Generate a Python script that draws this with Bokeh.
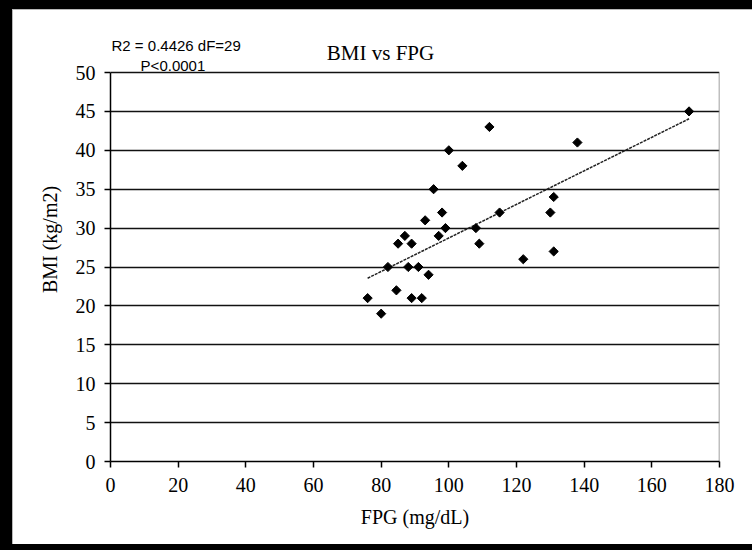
import numpy as np
from bokeh.plotting import figure
from bokeh.models import Range1d, Label, FixedTicker
from bokeh.embed import file_html
from bokeh.resources import INLINE

# Data
fpg = [112, 138, 100, 104, 95.5, 131, 93, 98, 115, 130, 87, 85, 89, 97, 99,
       108, 109, 122, 131, 82, 88, 91, 94, 84.5, 76, 89, 92, 80, 171]
bmi = [43, 41, 40, 38, 35, 34, 31, 32, 32, 32, 29, 28, 28, 29, 30,
       30, 28, 26, 27, 25, 25, 25, 24, 22, 21, 21, 21, 19, 45]
trend_x = [76, 171]
trend_y = [23.56, 44.05]
x_ticks = [0, 20, 40, 60, 80, 100, 120, 140, 160, 180]
y_ticks = [0, 5, 10, 15, 20, 25, 30, 35, 40, 45, 50]
title_text = "BMI vs FPG"
stat_line1 = "R2 = 0.4426 dF=29"
stat_line2 = "P<0.0001"

SERIF = "Liberation Serif"
SANS = "Liberation Sans"

# frame extends above y=50 so that the title texts sit inside it
Y_TOP = 57.07
p = figure(width=752, height=550, output_backend="svg", toolbar_location=None,
           x_range=Range1d(0, 180), y_range=Range1d(0, Y_TOP),
           min_border_left=110, min_border_right=33, min_border_top=17,
           min_border_bottom=89)
p.styles = {"background-color": "white", "overflow": "hidden",
            "box-shadow": "inset 12px 9px 0 0 black, inset 0 -6px 0 0 black, "
                          "inset 13px 10px 0 0 #b8b8b8, inset -8px 0 0 0 white"}
p.background_fill_color = "white"
p.border_fill_color = None
p.outline_line_color = None

# grid
p.xgrid.grid_line_color = None
p.ygrid.grid_line_color = "#111111"
p.ygrid.grid_line_width = 1.5
p.ygrid.ticker = FixedTicker(ticks=y_ticks)

for ax, ticks in ((p.xaxis[0], x_ticks), (p.yaxis[0], y_ticks)):
    ax.ticker = FixedTicker(ticks=ticks)
    ax.minor_tick_line_color = None
    ax.major_tick_in = 0
    ax.major_tick_out = 6
    ax.axis_line_color = "black"
    ax.axis_line_width = 1.5
    ax.major_tick_line_color = "black"
    ax.major_tick_line_width = 1.5
    ax.major_label_text_font = SERIF
    ax.major_label_text_font_size = "20px"
    ax.major_label_text_color = "black"
    ax.axis_label_text_font = SERIF
    ax.axis_label_text_font_size = "20px"
    ax.axis_label_text_font_style = "normal"
    ax.axis_label_text_color = "black"

p.yaxis.bounds = (0, 50)
p.xaxis.axis_label = "FPG (mg/dL)"
p.yaxis.axis_label = "BMI (kg/m2)"
p.xaxis.major_label_standoff = 10
p.yaxis.major_label_standoff = 9
p.xaxis.axis_label_standoff = 11
p.yaxis.axis_label_standoff = 12

# right edge of the plot area
p.segment(x0=[180], y0=[0], x1=[180], y1=[50], line_color="#808080", line_width=1.5)

# trendline
p.line(trend_x, trend_y, line_color="#222222", line_width=1.5, line_dash="3 1")

# points
p.scatter(fpg, bmi, marker="square", angle=np.pi / 4, size=6.5,
          fill_color="black", line_color="black", line_width=1)

# title and stats text
p.add_layout(Label(x=79.8, y=52.57, text=title_text, text_align="center",
                   text_baseline="alphabetic", text_font=SERIF,
                   text_font_size="21px", text_color="black"))
p.add_layout(Label(x=0.3, y=53.47, text=stat_line1, text_align="left",
                   text_baseline="alphabetic", text_font=SANS,
                   text_font_size="15px", text_color="black"))
p.add_layout(Label(x=8.9, y=50.9, text=stat_line2, text_align="left",
                   text_baseline="alphabetic", text_font=SANS,
                   text_font_size="15px", text_color="black"))

open("out.html", "w").write(file_html(p, INLINE))
